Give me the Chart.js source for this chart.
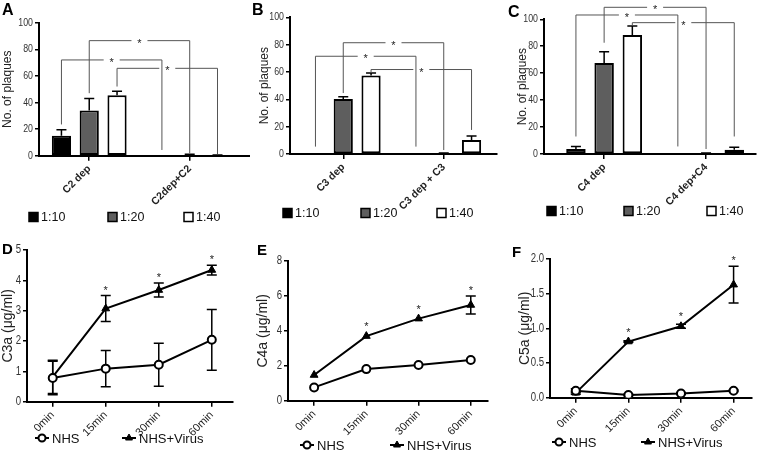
<!DOCTYPE html>
<html>
<head>
<meta charset="utf-8">
<script src="https://cdn.jsdelivr.net/npm/chart.js@4.4.1/dist/chart.umd.min.js"></script>
<style>
  html, body { margin: 0; padding: 0; background: #fff; }
  #wrap { position: relative; width: 760px; height: 454px; overflow: hidden; }
  canvas { position: absolute; }
</style>
</head>
<body>
<div id="wrap">
  <canvas id="chartA" width="250" height="225" style="left:0;top:0"></canvas>
  <canvas id="chartB" width="255" height="225" style="left:250px;top:0"></canvas>
  <canvas id="chartC" width="255" height="225" style="left:505px;top:0"></canvas>
  <canvas id="chartD" width="250" height="229" style="left:0;top:225px"></canvas>
  <canvas id="chartE" width="255" height="229" style="left:250px;top:225px"></canvas>
  <canvas id="chartF" width="255" height="229" style="left:505px;top:225px"></canvas>
</div>
<script>
// plaque counts (A-C), three serum dilutions per group
const dilutions = ["1:10", "1:20", "1:40"];
const groupsA = ["C2 dep", "C2dep+C2"];
const groupsB = ["C3 dep", "C3 dep + C3"];
const groupsC = ["C4 dep", "C4 dep+C4"];

const plaquesA10 = [15, 0];
const plaquesA20 = [34, 0.6];
const plaquesA40 = [45.5, 0.4];
const errA10 = [4.5, 0];
const errA20 = [9, 0.4];
const errA40 = [3, 0.2];

const plaquesB10 = [0, 0];
const plaquesB20 = [40.2, 0.5];
const plaquesB40 = [57.4, 10.3];
const errB10 = [0, 0];
const errB20 = [1.6, 0.3];
const errB40 = [1.9, 2.9];

const plaquesC10 = [3.7, 0];
const plaquesC20 = [67.6, 0.5];
const plaquesC40 = [88.3, 3.2];
const errC10 = [1.9, 0];
const errC20 = [8.4, 0.3];
const errC40 = [6.7, 1.8];

// significance brackets: dataset, left leg bottom, right leg bottom, bracket height
const bracketsA = [
  { ds: 0, from: 23.5, to: 4.3, top: 72 },
  { ds: 1, from: 47, to: 1.8, top: 86.5 },
  { ds: 2, from: 52, to: 1.2, top: 65.7 }
];
const bracketsB = [
  { ds: 0, from: 5.4, to: 5.4, top: 71.5 },
  { ds: 1, from: 44.6, to: 2.9, top: 81.4 },
  { ds: 2, from: 59.3, to: 17.6, top: 61.8 }
];
const bracketsC = [
  { ds: 0, from: 13, to: 5.6, top: 103.2 },
  { ds: 1, from: 82.6, to: 3.7, top: 108.9 },
  { ds: 2, from: 95.5, to: 13, top: 97.5 }
];

// anaphylatoxins (D-F)
const times = ["0min", "15min", "30min", "60min"];
const seriesNames = ["NHS", "NHS+Virus"];
const sigTimes = [false, true, true, true];

const c3aNHS = [0.78, 1.09, 1.22, 2.04];
const c3aNHSErr = [0.55, 0.6, 0.71, 1.0];
const c3aVirus = [0.82, 3.07, 3.68, 4.34];
const c3aVirusErr = [0.55, 0.43, 0.23, 0.16];

const c4aNHS = [0.76, 1.81, 2.04, 2.33];
const c4aNHSErr = [0, 0, 0, 0];
const c4aVirus = [1.47, 3.7, 4.7, 5.48];
const c4aVirusErr = [0, 0, 0, 0.52];

const c5aNHS = [0.1, 0.04, 0.06, 0.1];
const c5aNHSErr = [0.03, 0.01, 0.01, 0.01];
const c5aVirus = [0.07, 0.81, 1.03, 1.63];
const c5aVirusErr = [0.02, 0.01, 0.03, 0.265];

const FONT = "'Liberation Sans', Arial, sans-serif";
Chart.defaults.font.family = FONT;
Chart.defaults.color = "#222";

const toXY = arr => arr.map((v, i) => ({ x: i, y: v }));

// error bars, brackets, stars, narrow y labels, legend and panel letter
const decor = {
  id: "decor",
  beforeDatasetsDraw(chart, args, opts) {
    const ctx = chart.ctx;
    const ys = chart.scales.y;
    ctx.save();
    ctx.strokeStyle = "#000";
    ctx.lineWidth = 1.5;
    chart.data.datasets.forEach((ds, di) => {
      const meta = chart.getDatasetMeta(di);
      meta.data.forEach((el, i) => {
        const e = ds.errors[i];
        if (!e) return;
        const v = ds.data[i].y;
        const yHi = ys.getPixelForValue(v + e);
        const yLo = opts.bothWays ? ys.getPixelForValue(v - e) : el.y;
        ctx.beginPath();
        ctx.moveTo(el.x, yLo);
        ctx.lineTo(el.x, yHi);
        ctx.moveTo(el.x - opts.cap, yHi);
        ctx.lineTo(el.x + opts.cap, yHi);
        if (opts.bothWays) {
          ctx.moveTo(el.x - opts.cap, yLo);
          ctx.lineTo(el.x + opts.cap, yLo);
        }
        ctx.stroke();
      });
    });
    ctx.restore();
  },
  afterDraw(chart, args, opts) {
    const ctx = chart.ctx;
    const ys = chart.scales.y;
    ctx.save();

    // y tick labels, squeezed like the original figure
    ctx.fillStyle = "#333";
    ctx.textAlign = "right";
    ctx.textBaseline = "middle";
    ctx.font = opts.yLabelSize + "px " + FONT;
    ys.ticks.forEach(t => {
      ctx.save();
      ctx.translate(ys.right - 6, ys.getPixelForValue(t.value));
      ctx.scale(0.8, 1);
      ctx.fillText(opts.yFmt(t.value), 0, 0);
      ctx.restore();
    });

    // brackets
    ctx.strokeStyle = "#555";
    ctx.lineWidth = 1;
    ctx.fillStyle = "#222";
    ctx.textAlign = "center";
    ctx.textBaseline = "alphabetic";
    ctx.font = "11px " + FONT;
    (opts.brackets || []).forEach(b => {
      const m = chart.getDatasetMeta(b.ds);
      const x1 = m.data[0].x, x2 = m.data[1].x;
      const yTop = ys.getPixelForValue(b.top);
      const xm = (x1 + x2) / 2;
      ctx.beginPath();
      ctx.moveTo(x1, ys.getPixelForValue(b.from));
      ctx.lineTo(x1, yTop);
      ctx.lineTo(xm - 8, yTop);
      ctx.moveTo(xm + 8, yTop);
      ctx.lineTo(x2, yTop);
      ctx.lineTo(x2, ys.getPixelForValue(b.to));
      ctx.stroke();
      ctx.fillText("*", xm, yTop + 6);
    });

    // stars over significant time points
    if (opts.stars) {
      const di = 1;
      const ds = chart.data.datasets[di];
      const m = chart.getDatasetMeta(di);
      opts.stars.forEach((s, i) => {
        if (!s) return;
        const top = Math.min(ys.getPixelForValue(ds.data[i].y + ds.errors[i]), m.data[i].y - 4);
        ctx.fillText("*", m.data[i].x, top - 2);
      });
    }

    // legend
    ctx.font = opts.legendFont + "px " + FONT;
    ctx.textAlign = "left";
    ctx.textBaseline = "middle";
    chart.data.datasets.forEach((ds, i) => {
      const x = opts.legendX[i], y = opts.legendY;
      if (opts.legendKind === "box") {
        ctx.fillStyle = ds.backgroundColor;
        ctx.fillRect(x, y - 4.5, 9, 9);
        ctx.strokeStyle = "#000";
        ctx.lineWidth = 1.5;
        ctx.strokeRect(x, y - 4.5, 9, 9);
        ctx.fillStyle = "#111";
        ctx.fillText(ds.label, x + 12, y + 1);
      } else {
        ctx.strokeStyle = "#000";
        ctx.lineWidth = 2;
        ctx.beginPath();
        ctx.moveTo(x - 7, y);
        ctx.lineTo(x + 7, y);
        ctx.stroke();
        ctx.fillStyle = ds.pointBackgroundColor;
        ctx.lineWidth = ds.pointBorderWidth;
        Chart.helpers.drawPoint(ctx, {
          pointStyle: ds.pointStyle, radius: ds.pointRadius - 0.5, rotation: 0, borderWidth: ds.pointBorderWidth
        }, x, y);
        ctx.fillStyle = "#111";
        ctx.fillText(ds.label, x + 10, y + 1);
      }
    });

    // panel letter
    ctx.fillStyle = "#000";
    ctx.font = "bold " + opts.letterSize + "px " + FONT;
    ctx.textBaseline = "top";
    ctx.fillText(opts.letter, opts.letterPos[0], opts.letterPos[1]);
    ctx.restore();
  }
};

function xAxisOpts(labels, min, max, height, font) {
  return {
    type: "linear",
    min: min,
    max: max,
    offset: false,
    afterBuildTicks: s => { s.ticks = labels.map((_, i) => ({ value: i })); },
    afterFit: s => { s.height = height; },
    ticks: {
      callback: v => labels[v],
      autoSkip: false,
      minRotation: 45,
      maxRotation: 45,
      padding: 2,
      color: "#222",
      font: font
    },
    grid: { display: true, offset: false, drawOnChartArea: false, tickLength: 5, color: "#000", lineWidth: 1.5 },
    border: { display: true, color: "#000", width: 2 }
  };
}

function yAxisOpts(min, max, step, title, titleSize, width) {
  return {
    min: min,
    max: max,
    afterFit: s => { s.width = width; },
    ticks: { stepSize: step, display: false },
    grid: { display: true, drawOnChartArea: false, drawTicks: true, tickLength: 4, color: "#000", lineWidth: 1.5 },
    border: { display: true, color: "#000", width: 2 },
    title: { display: true, text: title, color: "#222", font: { size: titleSize }, padding: 0 }
  };
}

const barFills = ["#000000", "#5e5e5e", "#ffffff"];

function makeBarChart(id, p) {
  const datasets = dilutions.map((label, i) => ({
    label: label,
    data: toXY(p.values[i]),
    errors: p.errors[i],
    backgroundColor: barFills[i],
    borderColor: "#000",
    borderWidth: 2,
    borderSkipped: false,
    categoryPercentage: 0.83,
    barPercentage: 0.69
  }));
  new Chart(document.getElementById(id), {
    type: "bar",
    data: { datasets: datasets },
    options: {
      responsive: false,
      animation: false,
      layout: { padding: { left: p.padLeft, top: p.top, right: p.padRight, bottom: 0 } },
      plugins: {
        legend: { display: false },
        tooltip: { enabled: false },
        decor: {
          letter: p.letter, letterPos: p.letterPos, letterSize: 16,
          legendKind: "box", legendX: p.legendX, legendY: p.legendY, legendFont: 12.5,
          yLabelSize: 11, yFmt: v => String(v),
          brackets: p.brackets, cap: 5, bothWays: false
        }
      },
      scales: {
        x: xAxisOpts(p.labels, p.xMin, p.xMax, p.xHeight, { size: 10.5, weight: "bold" }),
        y: yAxisOpts(0, 100, 20, "No. of plaques", 12, p.yWidth)
      }
    },
    plugins: [decor]
  });
}

function makeLineChart(id, p) {
  const styles = [
    { pointStyle: "circle", pointRadius: 4, pointBackgroundColor: "#fff", pointBorderWidth: 2 },
    { pointStyle: "triangle", pointRadius: 4.5, pointBackgroundColor: "#000", pointBorderWidth: 1 }
  ];
  const datasets = seriesNames.map((label, i) => Object.assign({
    label: label,
    data: toXY(p.values[i]),
    errors: p.errors[i],
    borderColor: "#000",
    borderWidth: 2,
    pointBorderColor: "#000",
    tension: 0
  }, styles[i]));
  new Chart(document.getElementById(id), {
    type: "line",
    data: { datasets: datasets },
    options: {
      responsive: false,
      animation: false,
      layout: { padding: { left: p.padLeft, top: p.top, right: p.padRight, bottom: 0 } },
      plugins: {
        legend: { display: false },
        tooltip: { enabled: false },
        decor: {
          letter: p.letter, letterPos: p.letterPos, letterSize: 15,
          legendKind: "line", legendX: p.legendX, legendY: p.legendY, legendFont: 13,
          yLabelSize: 12, yFmt: p.fmt || (v => String(v)),
          stars: sigTimes, cap: 5, bothWays: true
        }
      },
      scales: {
        x: xAxisOpts(times, p.xMin, p.xMax, p.xHeight, { size: 11 }),
        y: yAxisOpts(0, p.yMax, p.yStep, p.title, 14, p.yWidth)
      }
    },
    plugins: [decor]
  });
}

makeBarChart("chartA", {
  labels: groupsA, values: [plaquesA10, plaquesA20, plaquesA40], errors: [errA10, errA20, errA40],
  brackets: bracketsA, letter: "A", letterPos: [2, 3],
  padLeft: 0, yWidth: 39, top: 22.7, padRight: 0, xHeight: 69.3, xMin: -0.5, xMax: 1.6,
  legendX: [29, 108, 184], legendY: 217
});
makeBarChart("chartB", {
  labels: groupsB, values: [plaquesB10, plaquesB20, plaquesB40], errors: [errB10, errB20, errB40],
  brackets: bracketsB, letter: "B", letterPos: [2, 3],
  padLeft: 7, yWidth: 33, top: 17.3, padRight: 8, xHeight: 71, xMin: -0.53, xMax: 1.53,
  legendX: [33, 111, 187], legendY: 213
});
makeBarChart("chartC", {
  labels: groupsC, values: [plaquesC10, plaquesC20, plaquesC40], errors: [errC10, errC20, errC40],
  brackets: bracketsC, letter: "C", letterPos: [3, 5],
  padLeft: 10, yWidth: 29, top: 19.3, padRight: 4, xHeight: 71, xMin: -0.59, xMax: 1.49,
  legendX: [42, 119, 202], legendY: 211
});
makeLineChart("chartD", {
  values: [c3aNHS, c3aVirus], errors: [c3aNHSErr, c3aVirusErr],
  title: "C3a (\u03bcg/ml)", yMax: 5, yStep: 1, letter: "D", letterPos: [2, 17],
  padLeft: 0, yWidth: 27, top: 25, padRight: 17, xHeight: 52.3, xMin: -0.485, xMax: 3.4,
  legendX: [42, 129], legendY: 213
});
makeLineChart("chartE", {
  values: [c4aNHS, c4aVirus], errors: [c4aNHSErr, c4aVirusErr],
  title: "C4a (\u03bcg/ml)", yMax: 8, yStep: 2, letter: "E", letterPos: [7, 18],
  padLeft: 5, yWidth: 33, top: 36, padRight: 17, xHeight: 53.3, xMin: -0.5, xMax: 3.33,
  legendX: [57, 147], legendY: 220
});
makeLineChart("chartF", {
  values: [c5aNHS, c5aVirus], errors: [c5aNHSErr, c5aVirusErr],
  title: "C5a (\u03bcg/ml)", yMax: 2, yStep: 0.5, letter: "F", letterPos: [7, 20],
  padLeft: 12, yWidth: 33, top: 34, padRight: 8, xHeight: 56.3, xMin: -0.49, xMax: 3.35,
  fmt: v => v.toFixed(1),
  legendX: [54, 143], legendY: 217
});
</script>
</body>
</html>
